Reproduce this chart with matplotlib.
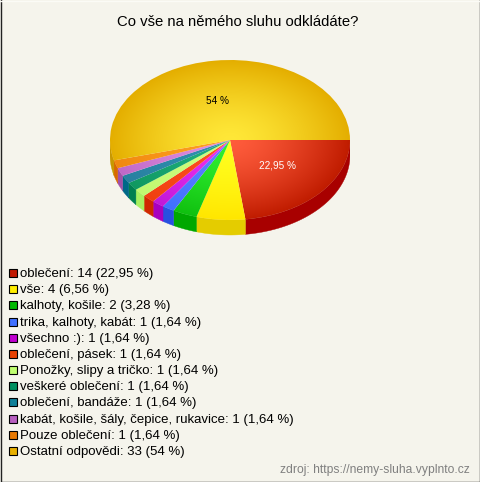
import numpy as np
import matplotlib
matplotlib.use("Agg")
import matplotlib.pyplot as plt
from matplotlib.patches import Rectangle, Polygon

plt.rcParams['font.family'] = ['Liberation Sans', 'DejaVu Sans']

title = "Co vše na němého sluhu odkládáte?"
source = "zdroj: https://nemy-sluha.vyplnto.cz"

labels = ["oblečení", "vše", "kalhoty, košile", "trika, kalhoty, kabát", "všechno :)",
          "oblečení, pásek", "Ponožky, slipy a tričko", "veškeré oblečení", "oblečení, bandáže",
          "kabát, košile, šály, čepice, rukavice", "Pouze oblečení", "Ostatní odpovědi"]
counts = [14, 4, 2, 1, 1, 1, 1, 1, 1, 1, 1, 33]
percents = ["22,95", "6,56", "3,28", "1,64", "1,64", "1,64", "1,64", "1,64", "1,64", "1,64", "1,64", "54"]

# colours: centre of the top, rim of the top, side wall, legend box
centre = ["#ff5c3c", "#ffff20", "#30f030", "#6080ff", "#f030f0", "#ff5020",
          "#d0ff80", "#20b080", "#3090b0", "#e090e0", "#ffa020", "#ffe838"]
rim = ["#c01c00", "#ffe600", "#10c010", "#4070ff", "#c018d8", "#f04010",
       "#c0f870", "#109860", "#2880a0", "#c068c8", "#f08810", "#e4ae00"]
side = ["#a80000", "#e4cc00", "#00a800", "#2850e0", "#a800c0", "#d02800",
        "#a8f060", "#008050", "#006888", "#a050a8", "#d86800", "#c89800"]
legend_box = ["#c01800", "#ffee00", "#00b800", "#4070ff", "#c000d0", "#e84000",
              "#c0ff70", "#009060", "#108098", "#b860c0", "#e87800", "#e8b000"]

W, H = 480, 482
fig = plt.figure(figsize=(W / 100, H / 100), dpi=100, facecolor="#f5f4ec")

# page in pixel coordinates, for the border and all the text
page = fig.add_axes([0, 0, 1, 1])
page.set_xlim(0, W)
page.set_ylim(H, 0)
page.axis("off")
# border on three sides only, the top row is pale
page.plot([0.5, 0.5, W - 0.5, W - 0.5], [0, H - 0.5, H - 0.5, 0], color="#222222", lw=1)
page.plot([0, W], [0.5, 0.5], color="#fbfbf6", lw=1)
page.set_xlim(0, W)
page.set_ylim(H, 0)

page.text(238, 21.5, title, fontsize=10.7, ha="center", va="center", color="black")
page.text(470, 469.5, source, fontsize=8.75, ha="right", va="center", color="#808080")

for i, lab in enumerate(labels):
    y = 273 + i * 16.18
    page.add_patch(Rectangle((9, y - 4), 8, 8, fc=legend_box[i], ec="black", lw=0.8))
    page.text(20, y + 1, "%s: %d (%s %%)" % (lab, counts[i], percents[i]),
              fontsize=9.56, va="center", color="black")

# pie axes: unit circle squashed onto the 240x160 ellipse
cx, cy, rx, ry, depth = 230, 140, 120, 80, 15
ax = fig.add_axes([(cx - rx) / W, 1 - (cy + ry + depth + 2) / H,
                   2 * rx / W, (2 * ry + depth + 2) / H])
wedges, _ = ax.pie(counts, startangle=0, counterclock=False, radius=1, frame=False)
ax.axis("off")
ax.patch.set_alpha(0)

gx, gy = np.meshgrid(np.linspace(-1, 1, 480), np.linspace(-1, 1, 320))
r = np.clip(np.hypot(gx, gy), 0, 1) ** 1.4
d = depth / ry

for i, w in enumerate(wedges):
    # clockwise pie gives negative angles
    t1, t2 = w.theta1 % 360, (w.theta2 - 1e-9) % 360
    if t2 < t1:
        t1 -= 360
    # visible wall is the part of the slice under the horizontal axis
    a1, a2 = max(t1, 180), min(t2, 360)
    if a2 > a1:
        th = np.radians(np.linspace(a1, a2, 80))
        xs, ys = np.cos(th), np.sin(th)
        pts = np.r_[np.c_[xs, ys], np.c_[xs[::-1], ys[::-1] - d]]
        ax.add_patch(Polygon(pts, fc=side[i], ec=side[i], lw=0.3, zorder=1))
    # radial gradient cut to the slice
    c0 = np.array(matplotlib.colors.to_rgb(centre[i]))
    c1 = np.array(matplotlib.colors.to_rgb(rim[i]))
    img = c0 + (c1 - c0) * r[..., None]
    im = ax.imshow(img, extent=(-1, 1, -1, 1), origin="lower", aspect="auto",
                   zorder=2, interpolation="bilinear")
    w.set_facecolor("none")
    w.set_edgecolor("none")
    im.set_clip_path(w)

ax.set_xlim(-1, 1)
ax.set_ylim(-1 - (depth + 2) / ry, 1)
ax.set_aspect("auto")

page.set_zorder(3)
page.text(217, 100.5, "54 %", fontsize=7.2, ha="center", va="center", color="black")
page.text(277.5, 166, "22,95 %", fontsize=7.2, ha="center", va="center", color="white")

fig.savefig("out.png", dpi=100, facecolor=fig.get_facecolor())
